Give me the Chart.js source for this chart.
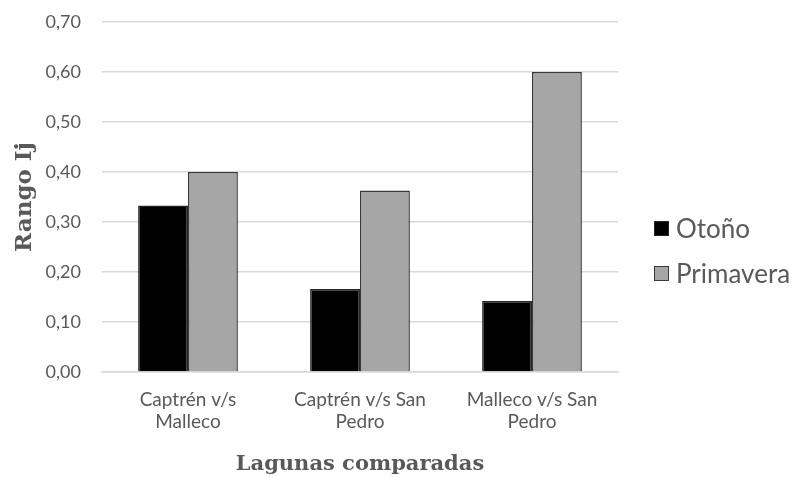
<!DOCTYPE html>
<html>
<head>
<meta charset="utf-8">
<script src="https://cdn.jsdelivr.net/npm/chart.js@4.4.1/dist/chart.umd.min.js"></script>
<style>
  html, body { margin: 0; padding: 0; background: #fff; }
  #wrap { position: relative; width: 797px; height: 477px; }
  #legend { position: absolute; left: 654px; top: 213px; font-family: Lato, sans-serif; font-size: 26px; color: #595959; }
  #legend .item { display: flex; align-items: center; height: 30px; margin-bottom: 15px; }
  #legend .box { width: 15px; height: 15px; margin-right: 7px; box-sizing: border-box; }
</style>
</head>
<body>
<div id="wrap">
  <canvas id="chart" width="797" height="477"></canvas>
  <div id="legend"></div>
</div>
<script>
const categories = [['Captrén v/s', 'Malleco'], ['Captrén v/s San', 'Pedro'], ['Malleco v/s San', 'Pedro']];
const otono     = [0.333, 0.166, 0.142];
const primavera = [0.40, 0.363, 0.60];
const yTicks    = [0, 0.1, 0.2, 0.3, 0.4, 0.5, 0.6, 0.7];

const series = [
  { label: 'Otoño',     data: otono,     fill: '#000000', border: '#262626' },
  { label: 'Primavera', data: primavera, fill: '#a6a6a6', border: '#3a3a3a' }
];

function buildLegend() {
  const legend = document.getElementById('legend');
  series.forEach(s => {
    const item = document.createElement('div');
    item.className = 'item';
    const box = document.createElement('span');
    box.className = 'box';
    box.style.background = s.fill;
    box.style.border = '1.5px solid ' + s.border;
    const txt = document.createElement('span');
    txt.textContent = s.label;
    item.appendChild(box);
    item.appendChild(txt);
    legend.appendChild(item);
  });
}

function drawChart() {
  const ctx = document.getElementById('chart').getContext('2d');
  new Chart(ctx, {
    type: 'bar',
    data: {
      labels: categories,
      datasets: series.map(s => ({
        label: s.label,
        data: s.data,
        backgroundColor: s.fill,
        borderColor: s.border,
        borderWidth: 1.5,
        barPercentage: 1,
        categoryPercentage: 0.58
      }))
    },
    options: {
      responsive: false,
      animation: false,
      layout: { padding: { left: 11, right: 179, top: 22, bottom: 0 } },
      plugins: {
        legend: { display: false },
        tooltip: { enabled: false }
      },
      scales: {
        x: {
          // fixed box height so the plot bottom lands where the reference has it
          afterFit: s => { s.height = 105; s.paddingLeft = 0; s.paddingRight = 0; },
          grid: { display: false },
          border: { display: true, color: '#d9d9d9', width: 1.5 },
          ticks: { color: '#595959', font: { family: 'Lato', size: 19, lineHeight: 1.2 }, padding: 8, maxRotation: 0 },
          title: { display: true, text: 'Lagunas comparadas', color: '#595959',
                   font: { family: 'DejaVu Serif', size: 21, weight: 'bold' }, padding: { top: 16, bottom: 0 } }
        },
        y: {
          min: 0,
          max: 0.7,
          afterFit: s => { s.width = 91; s.paddingTop = 0; s.paddingBottom = 0; },
          afterBuildTicks: axis => { axis.ticks = yTicks.map(v => ({ value: v })); },
          grid: { color: '#d9d9d9', lineWidth: 1.5, drawTicks: false },
          border: { display: false },
          ticks: { color: '#595959', font: { family: 'Lato', size: 18 }, padding: 21,
                   callback: v => v.toFixed(2).replace('.', ',') },
          title: { display: true, text: 'Rango Ij', color: '#595959',
                   font: { family: 'DejaVu Serif', size: 23, weight: 'bold' }, padding: { top: 0, bottom: 5 } }
        }
      }
    }
  });
}

window.addEventListener('DOMContentLoaded', () => {
  buildLegend();
  drawChart();
});
</script>
</body>
</html>
